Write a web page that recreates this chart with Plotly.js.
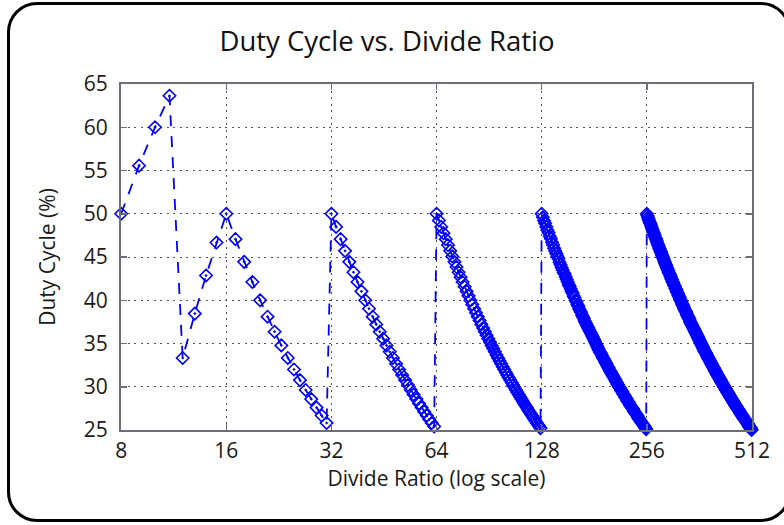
<!DOCTYPE html>
<html>
<head>
<meta charset="utf-8">
<script src="https://cdn.plot.ly/plotly-3.0.1.min.js"></script>
<style>
  html, body { margin: 0; padding: 0; background: #fff; }
  #wrap { position: relative; width: 784px; height: 525px; overflow: hidden; }
  #chart { position: absolute; left: 0; top: 0; width: 784px; height: 525px; }
  #frame { position: absolute; left: 7px; top: 2px; width: 784px; height: 520px;
           box-sizing: border-box; border: 3px solid #000; border-radius: 30px; pointer-events: none; }
</style>
</head>
<body>
<div id="wrap"><div id="chart"></div><div id="frame"></div></div>
<script>
// Divide ratios (x) and duty cycle in percent (y)
const divideRatio = [
  8, 9, 10, 11, 12, 13, 14, 15,
  16, 17, 18, 19, 20, 21, 22, 23, 24, 25, 26, 27, 28, 29, 30, 31,
  32, 33, 34, 35, 36, 37, 38, 39, 40, 41, 42, 43, 44, 45, 46, 47,
  48, 49, 50, 51, 52, 53, 54, 55, 56, 57, 58, 59, 60, 61, 62, 63,
  64, 65, 66, 67, 68, 69, 70, 71, 72, 73, 74, 75, 76, 77, 78, 79,
  80, 81, 82, 83, 84, 85, 86, 87, 88, 89, 90, 91, 92, 93, 94, 95,
  96, 97, 98, 99, 100, 101, 102, 103, 104, 105, 106, 107, 108, 109, 110, 111,
  112, 113, 114, 115, 116, 117, 118, 119, 120, 121, 122, 123, 124, 125, 126, 127,
  128, 129, 130, 131, 132, 133, 134, 135, 136, 137, 138, 139, 140, 141, 142, 143,
  144, 145, 146, 147, 148, 149, 150, 151, 152, 153, 154, 155, 156, 157, 158, 159,
  160, 161, 162, 163, 164, 165, 166, 167, 168, 169, 170, 171, 172, 173, 174, 175,
  176, 177, 178, 179, 180, 181, 182, 183, 184, 185, 186, 187, 188, 189, 190, 191,
  192, 193, 194, 195, 196, 197, 198, 199, 200, 201, 202, 203, 204, 205, 206, 207,
  208, 209, 210, 211, 212, 213, 214, 215, 216, 217, 218, 219, 220, 221, 222, 223,
  224, 225, 226, 227, 228, 229, 230, 231, 232, 233, 234, 235, 236, 237, 238, 239,
  240, 241, 242, 243, 244, 245, 246, 247, 248, 249, 250, 251, 252, 253, 254, 255,
  256, 257, 258, 259, 260, 261, 262, 263, 264, 265, 266, 267, 268, 269, 270, 271,
  272, 273, 274, 275, 276, 277, 278, 279, 280, 281, 282, 283, 284, 285, 286, 287,
  288, 289, 290, 291, 292, 293, 294, 295, 296, 297, 298, 299, 300, 301, 302, 303,
  304, 305, 306, 307, 308, 309, 310, 311, 312, 313, 314, 315, 316, 317, 318, 319,
  320, 321, 322, 323, 324, 325, 326, 327, 328, 329, 330, 331, 332, 333, 334, 335,
  336, 337, 338, 339, 340, 341, 342, 343, 344, 345, 346, 347, 348, 349, 350, 351,
  352, 353, 354, 355, 356, 357, 358, 359, 360, 361, 362, 363, 364, 365, 366, 367,
  368, 369, 370, 371, 372, 373, 374, 375, 376, 377, 378, 379, 380, 381, 382, 383,
  384, 385, 386, 387, 388, 389, 390, 391, 392, 393, 394, 395, 396, 397, 398, 399,
  400, 401, 402, 403, 404, 405, 406, 407, 408, 409, 410, 411, 412, 413, 414, 415,
  416, 417, 418, 419, 420, 421, 422, 423, 424, 425, 426, 427, 428, 429, 430, 431,
  432, 433, 434, 435, 436, 437, 438, 439, 440, 441, 442, 443, 444, 445, 446, 447,
  448, 449, 450, 451, 452, 453, 454, 455, 456, 457, 458, 459, 460, 461, 462, 463,
  464, 465, 466, 467, 468, 469, 470, 471, 472, 473, 474, 475, 476, 477, 478, 479,
  480, 481, 482, 483, 484, 485, 486, 487, 488, 489, 490, 491, 492, 493, 494, 495,
  496, 497, 498, 499, 500, 501, 502, 503, 504, 505, 506, 507, 508, 509, 510, 511
];

const dutyCycle = [
  50, 55.56, 60, 63.64, 33.33, 38.46, 42.86, 46.67,
  50, 47.06, 44.44, 42.11, 40, 38.10, 36.36, 34.78, 33.33, 32, 30.77, 29.63, 28.57, 27.59, 26.67, 25.81,
  50, 48.48, 47.06, 45.71, 44.44, 43.24, 42.11, 41.03, 40, 39.02, 38.10, 37.21, 36.36, 35.56, 34.78, 34.04,
  33.33, 32.65, 32, 31.37, 30.77, 30.19, 29.63, 29.09, 28.57, 28.07, 27.59, 27.12, 26.67, 26.23, 25.81, 25.40,
  50, 49.23, 48.48, 47.76, 47.06, 46.38, 45.71, 45.07, 44.44, 43.84, 43.24, 42.67, 42.11, 41.56, 41.03, 40.51,
  40, 39.51, 39.02, 38.55, 38.10, 37.65, 37.21, 36.78, 36.36, 35.96, 35.56, 35.16, 34.78, 34.41, 34.04, 33.68,
  33.33, 32.99, 32.65, 32.32, 32, 31.68, 31.37, 31.07, 30.77, 30.48, 30.19, 29.91, 29.63, 29.36, 29.09, 28.83,
  28.57, 28.32, 28.07, 27.83, 27.59, 27.35, 27.12, 26.89, 26.67, 26.45, 26.23, 26.02, 25.81, 25.60, 25.40, 25.20,
  50.0, 49.6, 49.2, 48.9, 48.5, 48.1, 47.8, 47.4, 47.1, 46.7, 46.4, 46.0, 45.7, 45.4, 45.1, 44.8,
  44.4, 44.1, 43.8, 43.5, 43.2, 43.0, 42.7, 42.4, 42.1, 41.8, 41.6, 41.3, 41.0, 40.8, 40.5, 40.3,
  40.0, 39.8, 39.5, 39.3, 39.0, 38.8, 38.6, 38.3, 38.1, 37.9, 37.6, 37.4, 37.2, 37.0, 36.8, 36.6,
  36.4, 36.2, 36.0, 35.8, 35.6, 35.4, 35.2, 35.0, 34.8, 34.6, 34.4, 34.2, 34.0, 33.9, 33.7, 33.5,
  33.3, 33.2, 33.0, 32.8, 32.7, 32.5, 32.3, 32.2, 32.0, 31.8, 31.7, 31.5, 31.4, 31.2, 31.1, 30.9,
  30.8, 30.6, 30.5, 30.3, 30.2, 30.0, 29.9, 29.8, 29.6, 29.5, 29.4, 29.2, 29.1, 29.0, 28.8, 28.7,
  28.6, 28.4, 28.3, 28.2, 28.1, 27.9, 27.8, 27.7, 27.6, 27.5, 27.4, 27.2, 27.1, 27.0, 26.9, 26.8,
  26.7, 26.6, 26.4, 26.3, 26.2, 26.1, 26.0, 25.9, 25.8, 25.7, 25.6, 25.5, 25.4, 25.3, 25.2, 25.1,
  50.0, 49.8, 49.6, 49.4, 49.2, 49.0, 48.9, 48.7, 48.5, 48.3, 48.1, 47.9, 47.8, 47.6, 47.4, 47.2,
  47.1, 46.9, 46.7, 46.5, 46.4, 46.2, 46.0, 45.9, 45.7, 45.6, 45.4, 45.2, 45.1, 44.9, 44.8, 44.6,
  44.4, 44.3, 44.1, 44.0, 43.8, 43.7, 43.5, 43.4, 43.2, 43.1, 43.0, 42.8, 42.7, 42.5, 42.4, 42.2,
  42.1, 42.0, 41.8, 41.7, 41.6, 41.4, 41.3, 41.2, 41.0, 40.9, 40.8, 40.6, 40.5, 40.4, 40.3, 40.1,
  40.0, 39.9, 39.8, 39.6, 39.5, 39.4, 39.3, 39.1, 39.0, 38.9, 38.8, 38.7, 38.6, 38.4, 38.3, 38.2,
  38.1, 38.0, 37.9, 37.8, 37.6, 37.5, 37.4, 37.3, 37.2, 37.1, 37.0, 36.9, 36.8, 36.7, 36.6, 36.5,
  36.4, 36.3, 36.2, 36.1, 36.0, 35.9, 35.8, 35.7, 35.6, 35.5, 35.4, 35.3, 35.2, 35.1, 35.0, 34.9,
  34.8, 34.7, 34.6, 34.5, 34.4, 34.3, 34.2, 34.1, 34.0, 34.0, 33.9, 33.8, 33.7, 33.6, 33.5, 33.4,
  33.3, 33.2, 33.2, 33.1, 33.0, 32.9, 32.8, 32.7, 32.7, 32.6, 32.5, 32.4, 32.3, 32.2, 32.2, 32.1,
  32.0, 31.9, 31.8, 31.8, 31.7, 31.6, 31.5, 31.4, 31.4, 31.3, 31.2, 31.1, 31.1, 31.0, 30.9, 30.8,
  30.8, 30.7, 30.6, 30.5, 30.5, 30.4, 30.3, 30.3, 30.2, 30.1, 30.0, 30.0, 29.9, 29.8, 29.8, 29.7,
  29.6, 29.6, 29.5, 29.4, 29.4, 29.3, 29.2, 29.2, 29.1, 29.0, 29.0, 28.9, 28.8, 28.8, 28.7, 28.6,
  28.6, 28.5, 28.4, 28.4, 28.3, 28.3, 28.2, 28.1, 28.1, 28.0, 27.9, 27.9, 27.8, 27.8, 27.7, 27.6,
  27.6, 27.5, 27.5, 27.4, 27.4, 27.3, 27.2, 27.2, 27.1, 27.1, 27.0, 26.9, 26.9, 26.8, 26.8, 26.7,
  26.7, 26.6, 26.6, 26.5, 26.4, 26.4, 26.3, 26.3, 26.2, 26.2, 26.1, 26.1, 26.0, 26.0, 25.9, 25.9,
  25.8, 25.8, 25.7, 25.7, 25.6, 25.5, 25.5, 25.4, 25.4, 25.3, 25.3, 25.2, 25.2, 25.1, 25.1, 25.0
];

const xTickVals = [8, 16, 32, 64, 128, 256, 512];
const xTickText = ['8', '16', '32', '64', '128', '256', '512'];
const yTickVals = [25, 30, 35, 40, 45, 50, 55, 60, 65];

const FONT = 'Open Sans, Noto Sans, DejaVu Sans, sans-serif';

const trace = {
  x: divideRatio,
  y: dutyCycle,
  type: 'scatter',
  mode: 'lines+markers',
  cliponaxis: false,
  line: { color: '#0000ff', width: 1.8, dash: '11px,10px' },
  marker: { symbol: 'diamond-open-dot', size: 9.5, color: '#0000ff', line: { color: '#0000ff', width: 1.6 } },
  hoverinfo: 'skip'
};

const axisCommon = {
  showline: true, linecolor: '#6e6e78', linewidth: 2, mirror: 'ticks',
  ticks: 'inside', ticklen: 6, tickwidth: 1.5, tickcolor: '#6e6e78',
  showgrid: true, gridcolor: '#555', gridwidth: 1, griddash: '2px,4.5px',
  zeroline: false,
  tickfont: { family: FONT, size: 21, color: '#1a1a1a' }
};

const layout = {
  width: 784, height: 525,
  margin: { l: 121, r: 32, t: 84, b: 95 },
  paper_bgcolor: '#fff', plot_bgcolor: '#fff',
  showlegend: false,
  title: { text: 'Duty Cycle vs. Divide Ratio', font: { family: FONT, size: 27.5, color: '#111' },
           x: 0.4936, xref: 'container', xanchor: 'center', y: 0.922, yref: 'container', yanchor: 'middle' },
  xaxis: Object.assign({}, axisCommon, {
    type: 'log', range: [Math.log10(8) - 0.0005, Math.log10(512) + 0.0002],
    tickmode: 'array', tickvals: xTickVals, ticktext: xTickText,
    ticklabelstandoff: 1,
    title: { text: 'Divide Ratio (log scale)', font: { family: FONT, size: 21, color: '#1a1a1a' }, standoff: 8 }
  }),
  yaxis: Object.assign({}, axisCommon, {
    range: [25, 65], tickmode: 'array', tickvals: yTickVals,
    ticklabelstandoff: 7,
    title: { text: 'Duty Cycle (%)', font: { family: FONT, size: 21, color: '#1a1a1a' }, standoff: 22 }
  })
};

Plotly.newPlot('chart', [trace], layout, { displayModeBar: false, staticPlot: true });
</script>
</body>
</html>
